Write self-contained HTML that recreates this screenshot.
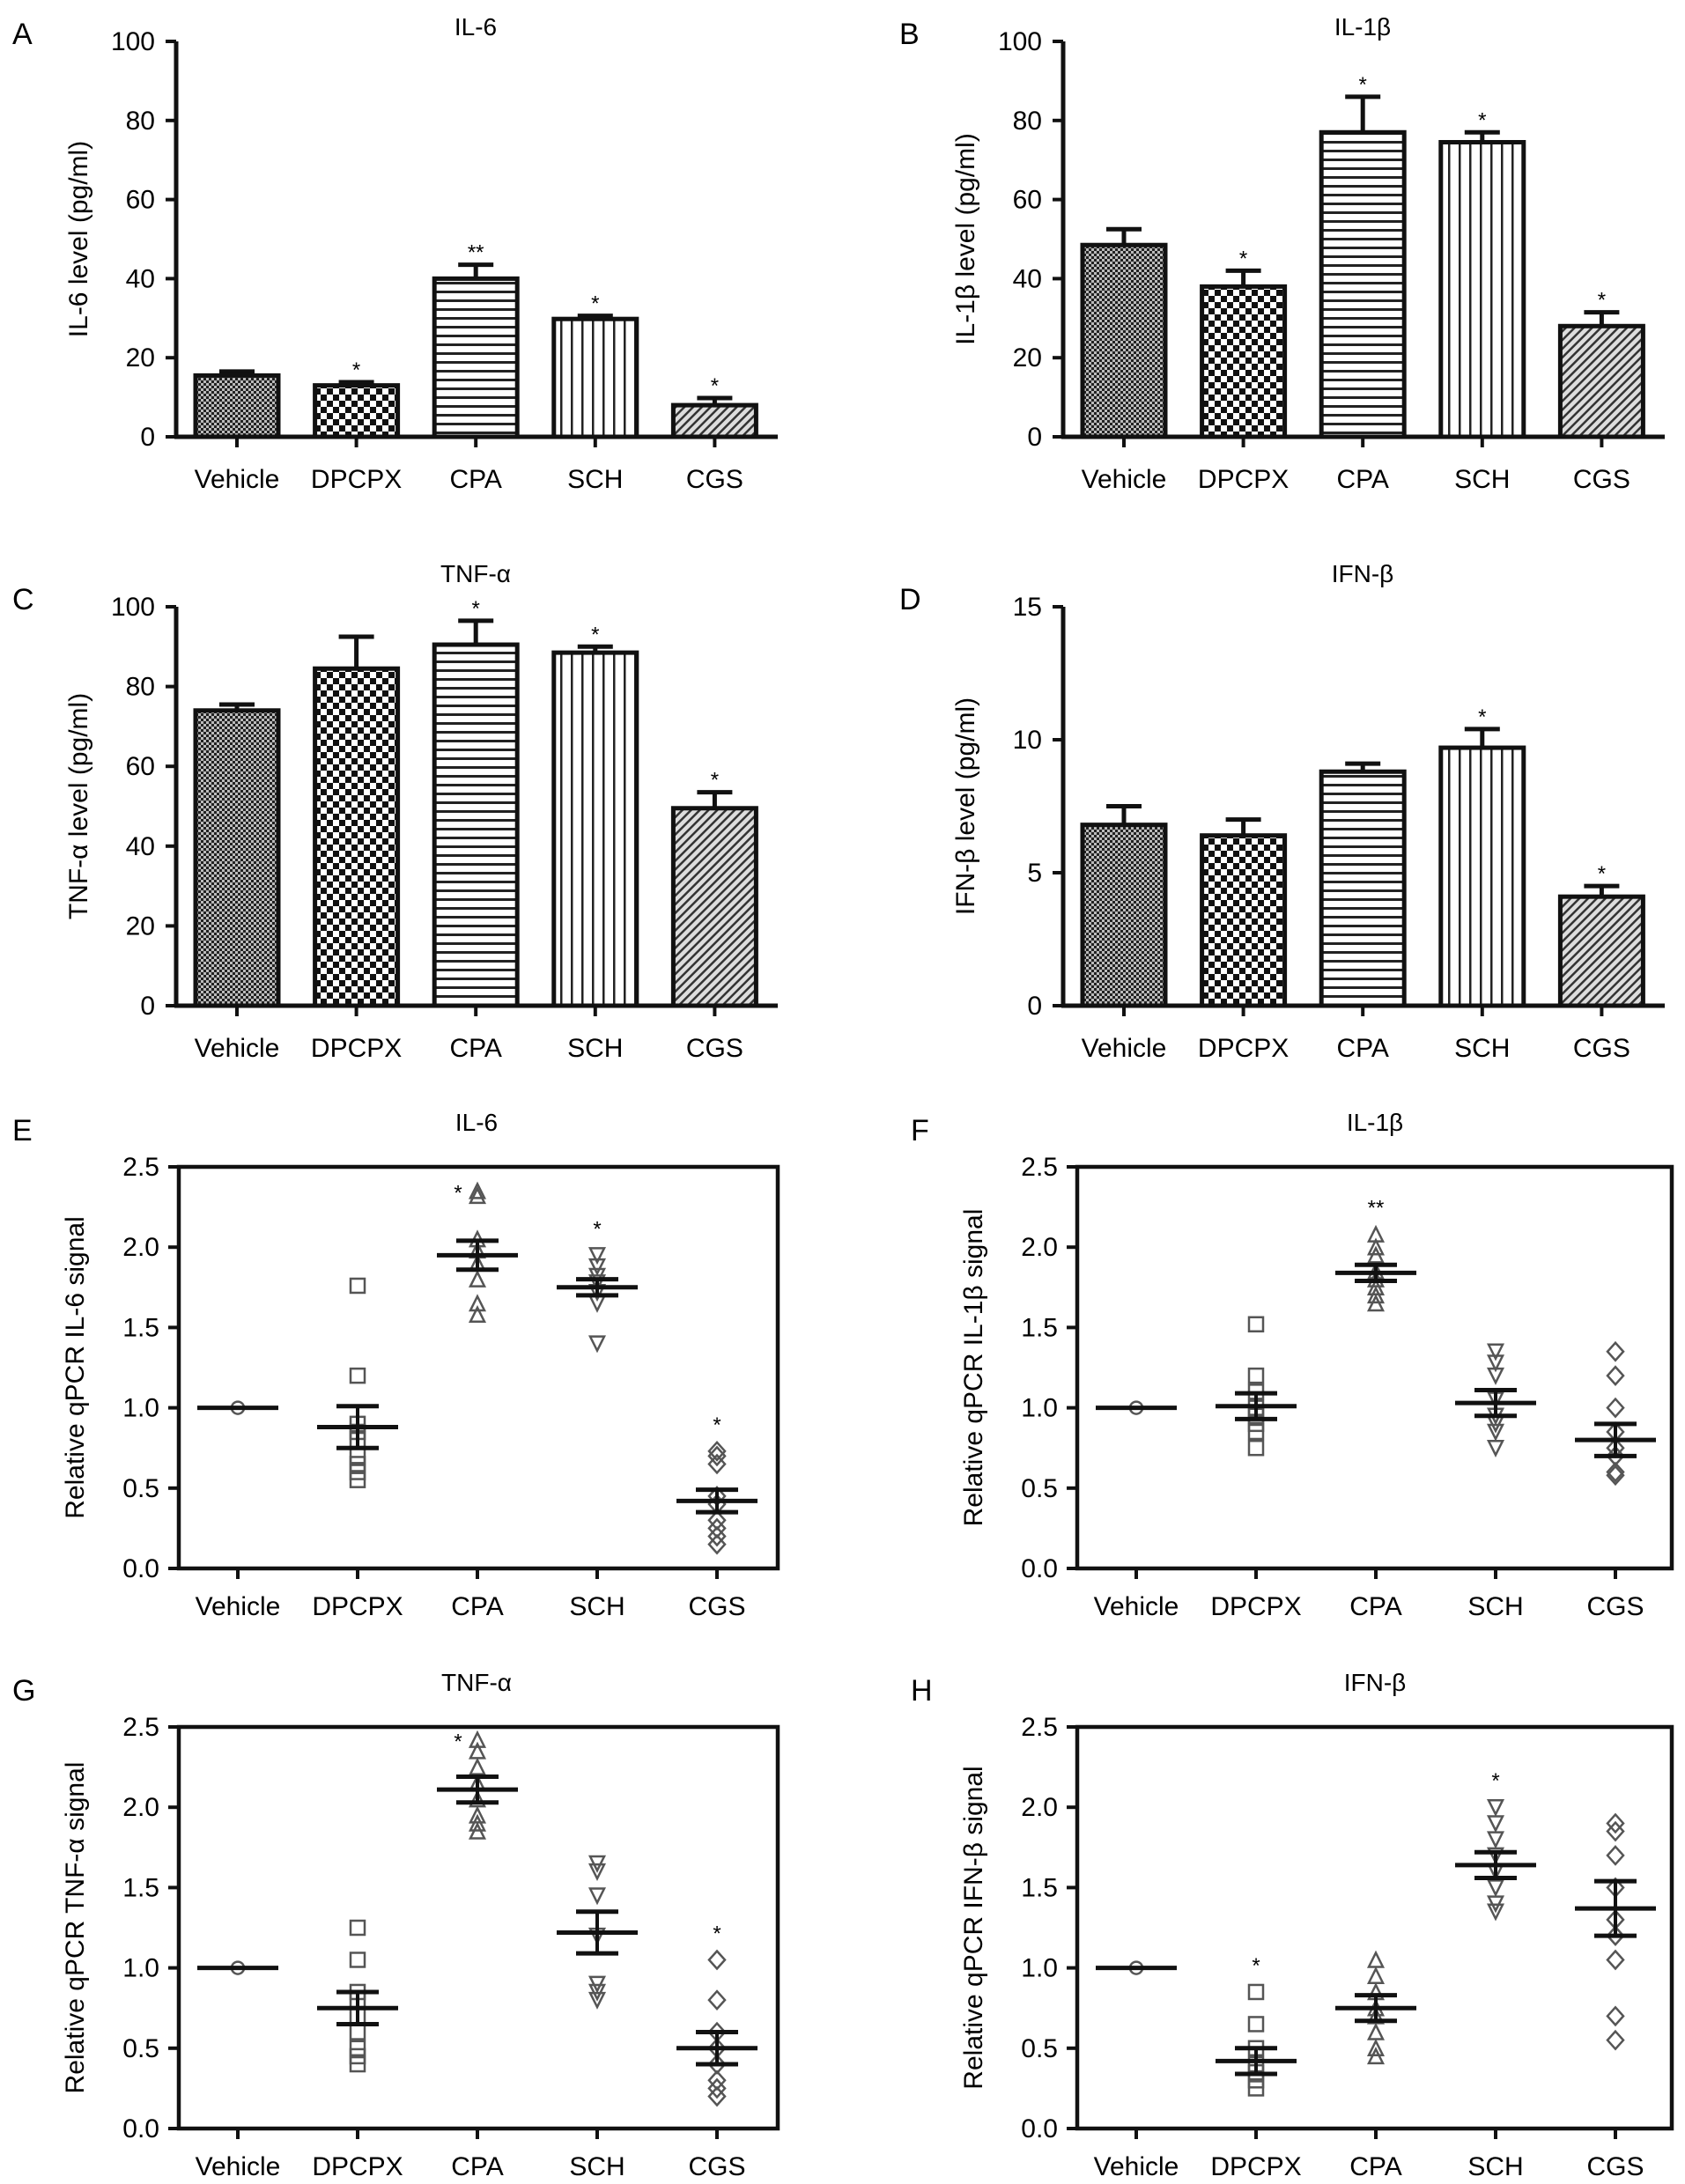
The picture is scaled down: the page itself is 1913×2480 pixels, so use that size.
<!DOCTYPE html>
<html><head><meta charset="utf-8"><style>
html,body{margin:0;padding:0;background:#fff}
svg{display:block;font-family:"Liberation Sans",Arial,sans-serif}
</style></head><body>
<svg id="fig" width="1913" height="2480" viewBox="0 0 1913 2480" xmlns="http://www.w3.org/2000/svg">
<defs>
<pattern id="pVeh" width="6" height="6" patternUnits="userSpaceOnUse"><rect width="6" height="6" fill="#bbb"/><rect width="3" height="3" fill="#222"/><rect x="3" y="3" width="3" height="3" fill="#222"/></pattern>
<pattern id="pDp" width="14" height="14" patternUnits="userSpaceOnUse"><rect width="14" height="14" fill="#fff"/><rect width="7" height="7" fill="#111"/><rect x="7" y="7" width="7" height="7" fill="#111"/></pattern>
<pattern id="pH" width="10" height="10" patternUnits="userSpaceOnUse"><rect width="10" height="10" fill="#fff"/><rect y="0" width="10" height="3" fill="#222"/></pattern>
<pattern id="pV" width="12" height="12" patternUnits="userSpaceOnUse"><rect width="12" height="12" fill="#fff"/><rect x="0" width="2.5" height="12" fill="#222"/></pattern>
<pattern id="pD" width="7" height="7" patternUnits="userSpaceOnUse" patternTransform="rotate(45)"><rect width="7" height="7" fill="#ddd"/><rect width="2.5" height="7" fill="#333"/></pattern>
</defs>
</svg>
<script>
const categories = ["Vehicle","DPCPX","CPA","SCH","CGS"];
// Bar panels A-D
const aMeans = [15.5, 13, 40, 29.8, 8];
const aErr = [1, 0.8, 3.5, 0.8, 1.8];
const aStars = ["", "*", "**", "*", "*"];
const bMeans = [48.5, 38, 77, 74.5, 28];
const bErr = [4, 4, 9, 2.5, 3.5];
const bStars = ["", "*", "*", "*", "*"];
const cMeans = [74, 84.5, 90.5, 88.5, 49.5];
const cErr = [1.5, 8, 6, 1.5, 4];
const cStars = ["", "", "*", "*", "*"];
const dMeans = [6.8, 6.4, 8.8, 9.7, 4.1];
const dErr = [0.7, 0.6, 0.3, 0.7, 0.4];
const dStars = ["", "", "", "*", "*"];
const ticks100 = [0, 20, 40, 60, 80, 100];
const ticks15 = [0, 5, 10, 15];
const ticksQ = ["0.0","0.5","1.0","1.5","2.0","2.5"];
// Scatter panels E-H: points per group
const ePts = [[1],[1.76,1.2,0.9,0.85,0.8,0.7,0.65,0.6,0.55],[2.35,2.32,2.05,1.98,1.9,1.8,1.65,1.58],[1.95,1.88,1.82,1.78,1.72,1.65,1.4],[0.73,0.7,0.65,0.45,0.4,0.3,0.25,0.2,0.15]];
const eMean = [1, 0.88, 1.95, 1.75, 0.42];
const eSem = [0, 0.13, 0.09, 0.05, 0.07];
const eStars = ["", "", "*", "*", "*"];
const fPts = [[1],[1.52,1.2,1.1,1.0,0.95,0.9,0.85,0.75],[2.08,2.0,1.95,1.85,1.8,1.75,1.7,1.65],[1.35,1.28,1.2,1.05,0.95,0.9,0.85,0.75],[1.35,1.2,1.0,0.85,0.75,0.7,0.6,0.58]];
const fMean = [1, 1.01, 1.84, 1.03, 0.8];
const fSem = [0, 0.08, 0.05, 0.08, 0.1];
const fStars = ["", "", "**", "", ""];
const gPts = [[1],[1.25,1.05,0.85,0.8,0.7,0.6,0.5,0.45,0.4],[2.42,2.35,2.25,2.15,2.05,1.95,1.9,1.85],[1.65,1.6,1.45,1.2,0.9,0.85,0.8],[1.05,0.8,0.6,0.5,0.4,0.3,0.25,0.2]];
const gMean = [1, 0.75, 2.11, 1.22, 0.5];
const gSem = [0, 0.1, 0.08, 0.13, 0.1];
const gStars = ["", "", "*", "", "*"];
const hPts = [[1],[0.85,0.65,0.5,0.4,0.35,0.3,0.25],[1.05,0.95,0.85,0.75,0.7,0.6,0.5,0.45],[2.0,1.9,1.8,1.7,1.6,1.5,1.4,1.35],[1.9,1.85,1.7,1.5,1.3,1.2,1.05,0.7,0.55]];
const hMean = [1, 0.42, 0.75, 1.64, 1.37];
const hSem = [0, 0.08, 0.08, 0.08, 0.17];
const hStars = ["", "*", "", "*", ""];

const svg = document.getElementById('fig');
const NS = "http://www.w3.org/2000/svg";
function mk(tag, attrs, parent, txt){
  const e = document.createElementNS(NS, tag);
  for (const k in attrs) e.setAttribute(k, attrs[k]);
  if (txt !== undefined) e.textContent = txt;
  (parent || svg).appendChild(e);
  return e;
}
const fills = ["url(#pVeh)","url(#pDp)","url(#pH)","url(#pV)","url(#pD)"];

function barPanel(id, letter, title, ylab, P, means, errs, stars, ticks, ymax){
  const g = mk('g', {});
  
  
  const y = v => P.y0 - (v / ymax) * (P.y0 - P.ytop);
  const x = i => P.ax + 69 + i * 135.6;
  const l = mk('text', {x: P.ax - 186, y: P.ytop + 3, 'font-size': 34}, g, letter);
   
  const t = mk('text', {x: P.ax + 340, y: P.ytop - P.tdy, 'font-size': 28, 'text-anchor': 'middle'}, g, title);
   
  const yl = mk('text', {transform: `translate(${P.ax - 101},${(P.y0 + P.ytop) / 2}) rotate(-90)`, 'font-size': 30, 'text-anchor': 'middle'}, g, ylab);
   
  ticks.forEach(v => {
    mk('line', {x1: P.ax - 12, x2: P.ax, y1: y(v), y2: y(v), stroke: '#111', 'stroke-width': 4}, g);
    const tl = mk('text', {x: P.ax - 24, y: y(v) + 10, 'font-size': 30, 'text-anchor': 'end'}, g, String(v));
     
  });
  means.forEach((m, i) => {
    const top = y(m + errs[i]);
    mk('line', {x1: x(i), x2: x(i), y1: y(m), y2: top, stroke: '#111', 'stroke-width': 5}, g);
    mk('line', {x1: x(i) - 20, x2: x(i) + 20, y1: top, y2: top, stroke: '#111', 'stroke-width': 5}, g);
    const b = mk('rect', {x: x(i) - 47, y: y(m), width: 94, height: P.y0 - y(m), fill: fills[i], stroke: '#111', 'stroke-width': 5}, g);
    
    
    if (stars[i]) {
      const s = mk('text', {x: x(i), y: top - 6, 'font-size': 24, 'text-anchor': 'middle'}, g, stars[i]);
       
    }
    mk('line', {x1: x(i), x2: x(i), y1: P.y0, y2: P.y0 + 12, stroke: '#111', 'stroke-width': 4}, g);
    const cl = mk('text', {x: x(i), y: P.y0 + 58, 'font-size': 30, 'text-anchor': 'middle'}, g, categories[i]);
     
  });
  mk('line', {x1: P.ax, x2: P.ax, y1: P.ytop, y2: P.y0, stroke: '#111', 'stroke-width': 5}, g);
  mk('line', {x1: P.ax - 2, x2: P.ax + 683, y1: P.y0, y2: P.y0, stroke: '#111', 'stroke-width': 5}, g);
}

function marker(g, i, cx, cy){
  const s = 8, a = {fill: 'none', stroke: '#555', 'stroke-width': 2.5};
  let e;
  if (i === 0) e = mk('circle', Object.assign({cx, cy, r: 7}, a), g);
  else if (i === 1) e = mk('rect', Object.assign({x: cx - s, y: cy - s, width: 2 * s, height: 2 * s}, a), g);
  else if (i === 2) e = mk('polygon', Object.assign({points: `${cx},${cy - s} ${cx + s},${cy + s} ${cx - s},${cy + s}`}, a), g);
  else if (i === 3) e = mk('polygon', Object.assign({points: `${cx - s},${cy - s} ${cx + s},${cy - s} ${cx},${cy + s}`}, a), g);
  else e = mk('polygon', Object.assign({points: `${cx},${cy - 10} ${cx + 9},${cy} ${cx},${cy + 10} ${cx - 9},${cy}`}, a), g);
  
  
}

function scatterPanel(id, letter, title, ylab, P, pts, means, sems, stars){
  const g = mk('g', {});
  
  
  const y = v => P.bot - (v / 2.5) * (P.bot - P.top);
  const x = i => P.L + 67 + i * 136;
  const l = mk('text', {x: P.L - 189, y: P.top - 30, 'font-size': 34}, g, letter);
   
  const t = mk('text', {x: P.L + 338, y: P.top - 41, 'font-size': 28, 'text-anchor': 'middle'}, g, title);
   
  const yl = mk('text', {transform: `translate(${P.L - 108},${(P.top + P.bot) / 2}) rotate(-90)`, 'font-size': 30, 'text-anchor': 'middle'}, g, ylab);
   
  mk('rect', {x: P.L, y: P.top, width: P.W, height: P.bot - P.top, fill: 'none', stroke: '#111', 'stroke-width': 4.5}, g);
  ticksQ.forEach(v => {
    const yy = y(parseFloat(v));
    mk('line', {x1: P.L - 12, x2: P.L, y1: yy, y2: yy, stroke: '#111', 'stroke-width': 4}, g);
    const tl = mk('text', {x: P.L - 22, y: yy + 10, 'font-size': 30, 'text-anchor': 'end'}, g, v);
     
  });
  pts.forEach((arr, i) => {
    arr.forEach(v => marker(g, i, x(i), y(v)));
    const m = means[i], se = sems[i];
    mk('line', {x1: x(i) - 46, x2: x(i) + 46, y1: y(m), y2: y(m), stroke: '#111', 'stroke-width': 5}, g);
    if (se > 0) {
      mk('line', {x1: x(i), x2: x(i), y1: y(m + se), y2: y(m - se), stroke: '#111', 'stroke-width': 4}, g);
      mk('line', {x1: x(i) - 24, x2: x(i) + 24, y1: y(m + se), y2: y(m + se), stroke: '#111', 'stroke-width': 5}, g);
      mk('line', {x1: x(i) - 24, x2: x(i) + 24, y1: y(m - se), y2: y(m - se), stroke: '#111', 'stroke-width': 5}, g);
    }
    if (stars[i]) {
      const mx = Math.max.apply(null, arr);
      const leftSide = (i === 2 && stars[i] === "*");
      const sx = leftSide ? x(i) - 22 : x(i);
      const sy = leftSide ? y(mx) + 10 : y(mx) - 22;
      const s = mk('text', {x: sx, y: sy, 'font-size': 24, 'text-anchor': 'middle'}, g, stars[i]);
       
    }
    mk('line', {x1: x(i), x2: x(i), y1: P.bot, y2: P.bot + 12, stroke: '#111', 'stroke-width': 4}, g);
    const cl = mk('text', {x: x(i), y: P.bot + 53, 'font-size': 30, 'text-anchor': 'middle'}, g, categories[i]);
     
  });
}

barPanel('a', 'A', 'IL-6', 'IL-6 level (pg/ml)', {ax: 200, ytop: 47, y0: 496, tdy: 7}, aMeans, aErr, aStars, ticks100, 100);
barPanel('b', 'B', 'IL-1β', 'IL-1β level (pg/ml)', {ax: 1207, ytop: 47, y0: 496, tdy: 7}, bMeans, bErr, bStars, ticks100, 100);
barPanel('c', 'C', 'TNF-α', 'TNF-α level (pg/ml)', {ax: 200, ytop: 689, y0: 1142, tdy: 28}, cMeans, cErr, cStars, ticks100, 100);
barPanel('d', 'D', 'IFN-β', 'IFN-β level (pg/ml)', {ax: 1207, ytop: 689, y0: 1142, tdy: 28}, dMeans, dErr, dStars, ticks15, 15);
scatterPanel('e', 'E', 'IL-6', 'Relative qPCR IL-6 signal', {L: 203, W: 680, top: 1325, bot: 1781}, ePts, eMean, eSem, eStars);
scatterPanel('f', 'F', 'IL-1β', 'Relative qPCR IL-1β signal', {L: 1223, W: 675, top: 1325, bot: 1781}, fPts, fMean, fSem, fStars);
scatterPanel('g', 'G', 'TNF-α', 'Relative qPCR TNF-α signal', {L: 203, W: 680, top: 1961, bot: 2417}, gPts, gMean, gSem, gStars);
scatterPanel('h', 'H', 'IFN-β', 'Relative qPCR IFN-β signal', {L: 1223, W: 675, top: 1961, bot: 2417}, hPts, hMean, hSem, hStars);
</script>
</body></html>
